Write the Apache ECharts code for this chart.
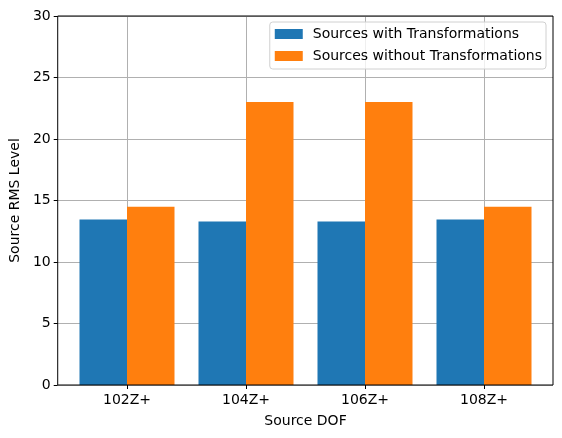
<!DOCTYPE html>
<html>
<head>
<meta charset="utf-8">
<script src="https://cdn.jsdelivr.net/npm/echarts@6/dist/echarts.min.js"></script>
<style>
  html, body { margin: 0; padding: 0; background: #fff; }
  #chart { width: 562px; height: 438px; }
</style>
</head>
<body>
<div id="chart"></div>
<script>
// data
const categories = ['102Z+', '104Z+', '106Z+', '108Z+'];
const withTransf = [13.45, 13.3, 13.3, 13.45];
const withoutTransf = [14.5, 23.0, 23.0, 14.5];
const yTicks = { min: 0, max: 30, interval: 5 };

const font = 'DejaVu Sans';
const fs = 14;
const chart = echarts.init(document.getElementById('chart'));

const option = {
  animation: false,
  textStyle: { fontFamily: font },
  grid: [
    // frame + y axis
    { left: 57, right: 9, top: 16, bottom: 53, show: true, borderColor: '#000', borderWidth: 1, backgroundColor: 'transparent', z: 5 },
    // bars (categories sit on ticks, matplotlib style margins)
    { left: 127, right: 78, top: 16, bottom: 53 }
  ],
  xAxis: [
    { gridIndex: 0, type: 'value', show: false },
    {
      gridIndex: 1, type: 'category', data: categories, boundaryGap: false,
      axisLine: { show: false },
      axisTick: { show: true, length: 4, lineStyle: { color: '#000' } },
      axisLabel: { color: '#000', fontSize: fs, margin: 8, fontFamily: font },
      splitLine: { show: true, lineStyle: { color: '#b0b0b0', width: 1 } },
      name: 'Source DOF', nameLocation: 'middle', nameGap: 29,
      nameTextStyle: { color: '#000', fontSize: fs, fontFamily: font }
    }
  ],
  yAxis: [
    {
      gridIndex: 0, type: 'value', min: yTicks.min, max: yTicks.max, interval: yTicks.interval,
      axisLine: { show: false },
      axisTick: { show: true, length: 4, lineStyle: { color: '#000' } },
      axisLabel: { color: '#000', fontSize: fs, margin: 7, fontFamily: font },
      splitLine: { show: true, lineStyle: { color: '#b0b0b0', width: 1 } },
      name: 'Source RMS Level', nameLocation: 'middle', nameGap: 34,
      nameTextStyle: { color: '#000', fontSize: fs, fontFamily: font }
    },
    { gridIndex: 1, type: 'value', min: yTicks.min, max: yTicks.max, show: false }
  ],
  legend: {
    orient: 'vertical', right: 16, top: 22,
    itemWidth: 28, itemHeight: 10, itemGap: 8,
    icon: 'rect',
    padding: [5, 4, 6, 5],
    borderColor: '#d0d0d0', borderWidth: 1, borderRadius: 3,
    backgroundColor: 'rgba(255,255,255,0.8)',
    textStyle: { color: '#000', fontSize: fs, fontFamily: font, padding: [0, 0, 0, 5] },
    data: ['Sources with Transformations', 'Sources without Transformations']
  },
  series: [
    {
      name: 'Sources with Transformations', type: 'bar', xAxisIndex: 1, yAxisIndex: 1,
      data: withTransf, barWidth: 47.5, barGap: '0%', clip: false,
      itemStyle: { color: '#1f77b4' }
    },
    {
      name: 'Sources without Transformations', type: 'bar', xAxisIndex: 1, yAxisIndex: 1,
      data: withoutTransf, barWidth: 47.5, barGap: '0%', clip: false,
      itemStyle: { color: '#ff7f0e' }
    }
  ]
};

chart.setOption(option);
</script>
</body>
</html>
